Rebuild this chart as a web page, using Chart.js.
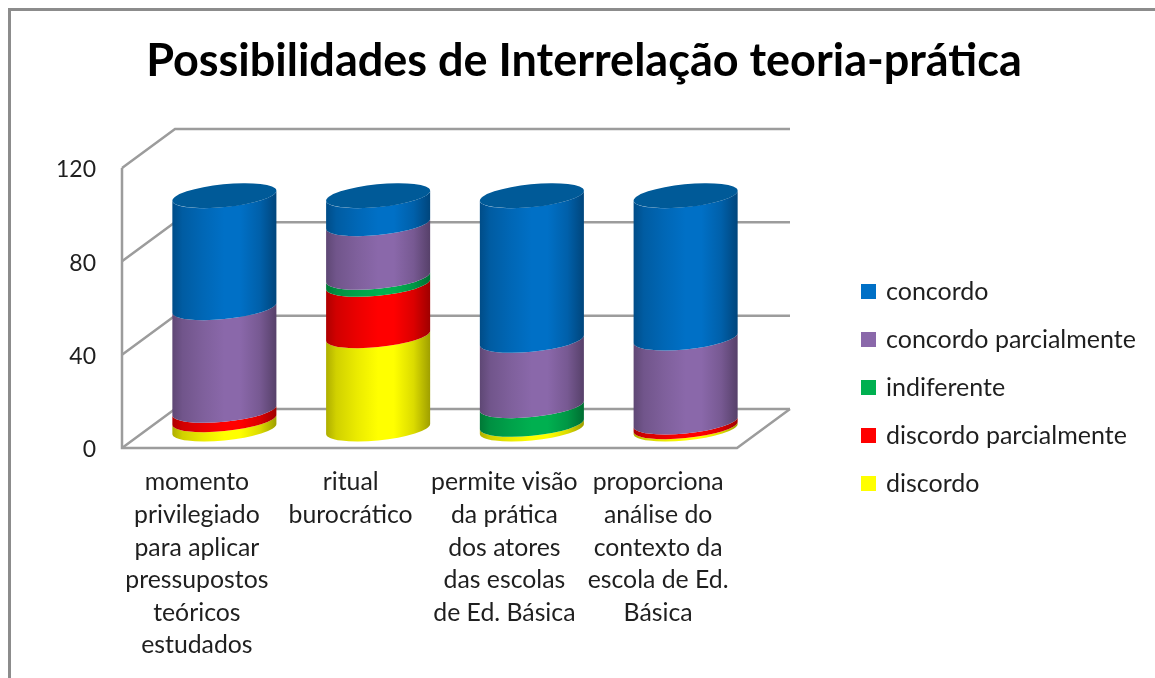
<!DOCTYPE html>
<html lang="pt"><head><meta charset="utf-8">
<style>
html,body{margin:0;padding:0;background:#fff;overflow:hidden}
#frame{position:absolute;left:8px;top:8px;width:1147px;height:670px;border-left:3px solid #8c8c8c;border-top:3px solid #8c8c8c;box-sizing:border-box}
#wrap{position:absolute;left:0;top:0;width:1155px;height:678px}
</style>
<script src="https://cdn.jsdelivr.net/npm/chart.js@4/dist/chart.umd.js"></script>
</head><body>
<div id="frame"></div>
<div id="wrap"><canvas id="c" width="1155" height="678"></canvas></div>
<script>
const titleText = 'Possibilidades de Interrelação teoria-prática';
const categories = [
  ['momento','privilegiado','para aplicar','pressupostos','teóricos','estudados'],
  ['ritual','burocrático'],
  ['permite visão','da prática','dos atores','das escolas','de Ed. Básica'],
  ['proporciona','análise do','contexto da','escola de Ed.','Básica']
];
const discordo = [4, 40, 2, 1];
const discordoParcialmente = [4, 22, 0, 2];
const indiferente = [0, 3, 8, 0];
const concordoParcialmente = [44, 23, 28, 36];
const concordo = [48, 12, 62, 61];
const seriesNames = ['discordo','discordo parcialmente','indiferente','concordo parcialmente','concordo'];
const seriesColors = ['#ffff00','#ff0000','#00b050','#8a68aa','#0070c6'];
const topCapColor = '#005a98';
const wallColor = '#9c9c9c';
const textColor = '#1f1f1f';

function shade(hex, f){
  const n = parseInt(hex.slice(1),16);
  const c = [n>>16&255, n>>8&255, n&255].map(v=>Math.round(v*f));
  return 'rgb('+c.join(',')+')';
}
const DEPTH = {bx:25.5, by:-19, wx:53, wy:-39};
const TILT = -0.1, RATIO = 0.218;

const cylinders = {
  id:'cylinders',
  afterLayout(chart){
    const lg = chart.legend, t = chart.titleBlock;
    t.left = 0; t.right = 1168;
    const p = lg.options.labels.padding;
    lg.left = 863.5 - p; lg.right = 1155;
    lg.top = 279 - p; lg.bottom = 530;
    lg.adjustHitBoxes && lg.adjustHitBoxes();
  },
  beforeDatasetDraw(){ return false; },
  beforeDatasetsDraw(chart){
    const ctx = chart.ctx, y = chart.scales.y, a = chart.chartArea;
    const {wx, wy, bx, by} = DEPTH;
    ctx.save();
    ctx.strokeStyle = wallColor; ctx.lineWidth = 2.5; ctx.lineJoin='miter';
    const line = pts => { ctx.beginPath(); pts.forEach((p,i)=> i?ctx.lineTo(p[0],p[1]):ctx.moveTo(p[0],p[1])); ctx.stroke(); };
    y.ticks.forEach(tk=>{
      const py = y.getPixelForValue(tk.value);
      line([[a.left,py],[a.left+wx,py+wy],[a.right+wx,py+wy]]);
    });
    const y0 = y.getPixelForValue(0), yTop = y.getPixelForValue(y.max);
    line([[a.left,yTop],[a.left,y0],[a.right,y0],[a.right+wx,y0+wy]]);

    const metas = chart.getSortedVisibleDatasetMetas();
    const n = chart.data.labels.length;
    for(let i=0;i<n;i++){
      let last=null;
      metas.forEach(m=>{
        const el = m.data[i], val = chart.data.datasets[m.index].data[i];
        if(!val) return;
        const p = el.getProps(['x','y','base','width'],true);
        const rx = p.width/2, ry = rx*RATIO, cx = p.x+bx, yb = p.base+by, yt = p.y+by;
        const t0 = Math.atan(-RATIO*Math.tan(TILT));
        const g = ctx.createLinearGradient(cx-rx,0,cx+rx,0);
        const col = chart.data.datasets[m.index].backgroundColor;
        [[0,.68],[.1,.82],[.3,.92],[.5,1],[.65,1],[.84,.86],[1,.62]].forEach(s=>g.addColorStop(s[0],shade(col,s[1])));
        ctx.beginPath();
        ctx.ellipse(cx,yb,rx,ry,TILT,t0,t0+Math.PI,false);
        ctx.ellipse(cx,yt,rx,ry,TILT,t0+Math.PI,t0,true);
        ctx.closePath();
        ctx.fillStyle = g; ctx.fill();
        last = {cx,yt,rx,ry};
      });
      if(last){
        ctx.beginPath();
        ctx.ellipse(last.cx,last.yt,last.rx,last.ry,TILT,0,Math.PI*2);
        ctx.fillStyle = topCapColor; ctx.fill();
      }
    }
    ctx.restore();
  }
};

const values = [discordo, discordoParcialmente, indiferente, concordoParcialmente, concordo];
new Chart(document.getElementById('c'),{
  type:'bar',
  data:{
    labels:categories,
    datasets:values.map((d,i)=>({
      label:seriesNames[i], data:d,
      backgroundColor:seriesColors[i], borderColor:seriesColors[i], borderWidth:5,
      stack:'s', barPercentage:0.68, categoryPercentage:1
    }))
  },
  plugins:[cylinders],
  options:{
    responsive:false, animation:false,
    layout:{padding:{left:0,right:418,top:0,bottom:0}},
    plugins:{
      tooltip:{enabled:false},
      title:{display:true,text:titleText,color:'#000',
        font:{family:'Lato',size:45,weight:'bold',lineHeight:1.2},
        padding:{top:34,bottom:80}},
      legend:{position:'chartArea',align:'start',reverse:true,
        labels:{boxWidth:10,boxHeight:10,padding:23,color:textColor,
          font:{family:'Lato',size:25}}}
    },
    scales:{
      x:{stacked:true,
        grid:{display:false,drawTicks:false},border:{display:false},
        afterFit(s){s.height=230;},
        ticks:{color:textColor,autoSkip:false,maxRotation:0,minRotation:0,padding:18,labelOffset:-2,
          font:{family:'Lato',size:24.8,lineHeight:1.315}}},
      y:{stacked:true,min:0,max:120,
        grid:{display:false,drawTicks:false},border:{display:false},
        afterFit(s){s.width=122;},
        ticks:{stepSize:40,color:textColor,padding:26,labelOffset:2,font:{family:'Lato',size:23}}}
    }
  }
});
</script>
</body></html>
